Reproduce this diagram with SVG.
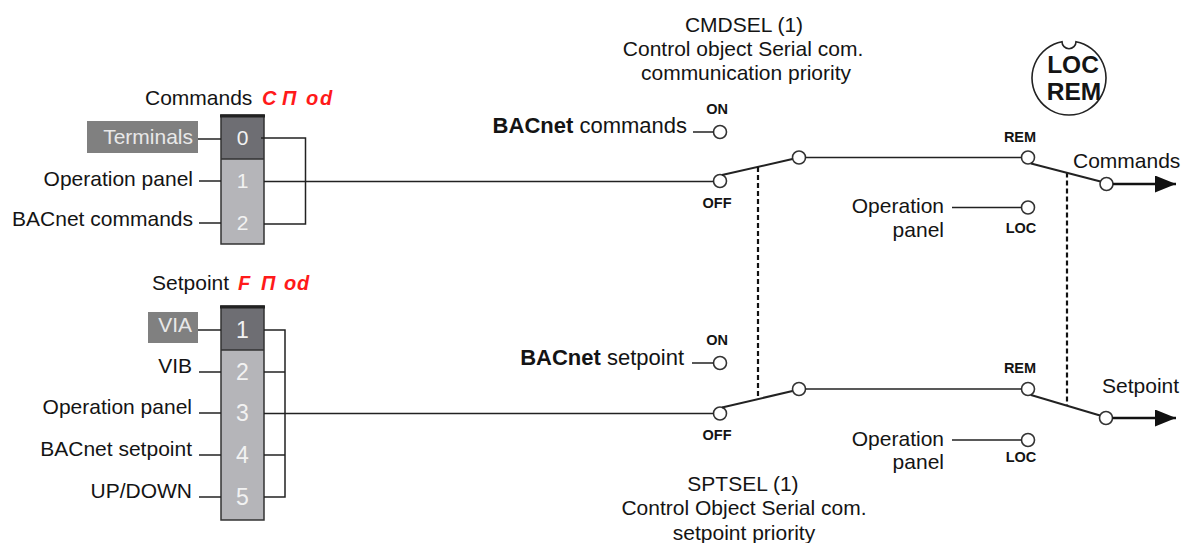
<svg xmlns="http://www.w3.org/2000/svg" width="1183" height="543" viewBox="0 0 1183 543">
<style>
text{font-family:"Liberation Sans",Arial,sans-serif;fill:#141414}
.lbl{font-size:21px}
.mid{font-size:22px}
.ttl{font-size:21px;text-anchor:middle}
.sm{font-size:14.5px;font-weight:bold;text-anchor:middle}
.dig{font-size:21px;fill:#f2f2f2;text-anchor:middle}
.dig2{font-size:23px;fill:#f2f2f2;text-anchor:middle}
.seg{font-size:20px;font-style:italic;font-weight:bold;fill:#ff1a1a}
.ln{stroke:#222;stroke-width:1.5;fill:none}
.term{fill:#fff;stroke:#333;stroke-width:1.6}
.arm{stroke:#222;stroke-width:2;fill:none}
.dash{stroke:#111;stroke-width:2.2;stroke-dasharray:5 3;fill:none}
.arr{stroke:#111;stroke-width:2.5;fill:none}
.dark{fill:#6e6e73}
.light{fill:#b5b5b9}
.frame{fill:none;stroke:#333;stroke-width:1.5}
.tag{fill:#808080}
.tagt{fill:#e8e8e8}
</style>
<defs>
<marker id="ah" markerUnits="userSpaceOnUse" markerWidth="21" markerHeight="17" refX="21" refY="8.5" orient="auto">
<path d="M0,0 L21,8.5 L0,17 z" fill="#111"/>
</marker>
</defs>

<g id="titles">
<text class="ttl" x="744" y="31.5">CMDSEL (1)</text>
<text class="ttl" x="743" y="56">Control object Serial com.</text>
<text class="ttl" x="746" y="80">communication priority</text>
<text class="ttl" x="743" y="491">SPTSEL (1)</text>
<text class="ttl" x="744" y="515">Control Object Serial com.</text>
<text class="ttl" x="744" y="540">setpoint priority</text>
</g>

<g id="cmd-selector">
<text class="lbl" x="145" y="105">Commands</text>
<text class="seg" y="105"><tspan x="262">C</tspan><tspan x="282">Π</tspan><tspan x="306">o</tspan><tspan x="320">d</tspan></text>
<rect class="dark" x="221" y="115" width="43" height="44"/>
<rect class="light" x="221" y="159" width="43" height="85"/>
<line x1="221" y1="159" x2="264" y2="159" stroke="#333" stroke-width="1.5"/>
<rect class="frame" x="221" y="115" width="43" height="129"/>
<line x1="220" y1="116" x2="265" y2="116" stroke="#222" stroke-width="3"/>
<text class="dig" x="242.5" y="145">0</text>
<text class="dig" x="242.5" y="188">1</text>
<text class="dig" x="242.5" y="230">2</text>
<rect class="tag" x="87" y="121" width="111" height="32"/>
<text class="lbl tagt" x="193" y="143.5" text-anchor="end">Terminals</text>
<text class="lbl" x="193" y="186" text-anchor="end">Operation panel</text>
<text class="lbl" x="193" y="226" text-anchor="end">BACnet commands</text>
</g>

<g id="sp-selector">
<text class="lbl" x="152" y="290">Setpoint</text>
<text class="seg" y="290"><tspan x="238">F</tspan><tspan x="261">Π</tspan><tspan x="284">o</tspan><tspan x="297">d</tspan></text>
<rect class="dark" x="221" y="306" width="43" height="44"/>
<rect class="light" x="221" y="350" width="43" height="170"/>
<line x1="221" y1="350" x2="264" y2="350" stroke="#333" stroke-width="1.5"/>
<rect class="frame" x="221" y="306" width="43" height="214"/>
<line x1="220" y1="307" x2="265" y2="307" stroke="#222" stroke-width="3"/>
<text class="dig2" x="242.5" y="338">1</text>
<text class="dig2" x="242.5" y="380">2</text>
<text class="dig2" x="242.5" y="421">3</text>
<text class="dig2" x="242.5" y="463">4</text>
<text class="dig2" x="242.5" y="505">5</text>
<rect class="tag" x="148" y="312" width="50" height="31"/>
<text class="lbl tagt" x="192" y="332" text-anchor="end">VIA</text>
<text class="lbl" x="192" y="373" text-anchor="end">VIB</text>
<text class="lbl" x="192" y="414" text-anchor="end">Operation panel</text>
<text class="lbl" x="192" y="456" text-anchor="end">BACnet setpoint</text>
<text class="lbl" x="192" y="498" text-anchor="end">UP/DOWN</text>
</g>

<g id="cmd-switch">
<text class="sm" x="717" y="114">ON</text>
<text class="sm" x="717" y="208">OFF</text>
<text class="mid" x="687" y="133" text-anchor="end"><tspan font-weight="bold">BACnet</tspan> commands</text>
<circle class="term" cx="720" cy="132" r="6.5"/>
<circle class="term" cx="720" cy="181" r="6.5"/>
<circle class="term" cx="799" cy="157.5" r="6.5"/>
</g>

<g id="sp-switch">
<text class="sm" x="717" y="345">ON</text>
<text class="sm" x="717" y="440">OFF</text>
<text class="mid" x="684" y="365" text-anchor="end"><tspan font-weight="bold">BACnet</tspan> setpoint</text>
<circle class="term" cx="720" cy="363" r="6.5"/>
<circle class="term" cx="720" cy="413.5" r="6.5"/>
<circle class="term" cx="799" cy="389" r="6.5"/>
</g>

<g id="cmd-locrem">
<text class="sm" x="1020" y="142">REM</text>
<text class="sm" x="1021" y="233">LOC</text>
<text class="lbl" x="944" y="213" text-anchor="end">Operation</text>
<text class="lbl" x="944" y="237" text-anchor="end">panel</text>
<circle class="term" cx="1028" cy="157.5" r="6.5"/>
<circle class="term" cx="1028" cy="207.5" r="6.5"/>
<circle class="term" cx="1106.5" cy="184" r="6.5"/>
<text class="lbl" x="1073" y="168">Commands</text>
</g>

<g id="sp-locrem">
<text class="sm" x="1020" y="373">REM</text>
<text class="sm" x="1021" y="462">LOC</text>
<text class="lbl" x="944" y="446" text-anchor="end">Operation</text>
<text class="lbl" x="944" y="469" text-anchor="end">panel</text>
<circle class="term" cx="1028" cy="389" r="6.5"/>
<circle class="term" cx="1028" cy="440" r="6.5"/>
<circle class="term" cx="1106" cy="418" r="6.5"/>
<text class="lbl" x="1102" y="393">Setpoint</text>
</g>

<g id="locrem-key">
<path d="M1062,41.7 A37,37 0 1 0 1076,41.7 A7,7 0 0 1 1062,41.7 Z" fill="#fff" stroke="#222" stroke-width="1.6"/>
<text x="1073" y="73" font-size="24.5" font-weight="bold" text-anchor="middle">LOC</text>
<text x="1074" y="100" font-size="24.5" font-weight="bold" text-anchor="middle">REM</text>
</g>

<g id="connectors">
<line class="ln" x1="198" y1="139" x2="221" y2="139"/>
<line class="ln" x1="199" y1="181" x2="221" y2="181"/>
<line class="ln" x1="199" y1="223" x2="221" y2="223"/>
<polyline class="ln" points="261,138 305.5,138 305.5,224 264,224"/>
<line class="ln" x1="264" y1="181.5" x2="713.5" y2="181.5"/>
<line class="ln" x1="198" y1="330" x2="221" y2="330"/>
<line class="ln" x1="199" y1="372" x2="221" y2="372"/>
<line class="ln" x1="199" y1="413" x2="221" y2="413"/>
<line class="ln" x1="199" y1="455" x2="221" y2="455"/>
<line class="ln" x1="199" y1="497" x2="221" y2="497"/>
<polyline class="ln" points="264,330 285,330 285,497 264,497"/>
<line class="ln" x1="264" y1="372" x2="285" y2="372"/>
<line class="ln" x1="264" y1="455" x2="285" y2="455"/>
<line class="ln" x1="264" y1="413.5" x2="713.5" y2="413.5"/>
<line class="ln" x1="693" y1="132" x2="713.5" y2="132"/>
<line class="arm" x1="722" y1="175" x2="792.5" y2="159"/>
<line class="ln" x1="805.5" y1="157.5" x2="1021.5" y2="157.5"/>
<line class="ln" x1="692" y1="363" x2="713.5" y2="363"/>
<line class="arm" x1="722" y1="407.5" x2="792.5" y2="391"/>
<line class="ln" x1="805.5" y1="389" x2="1021.5" y2="389"/>
<line class="dash" x1="758" y1="167" x2="758" y2="397"/>
<line class="dash" x1="1067" y1="172.5" x2="1067" y2="406"/>
<line class="ln" x1="952" y1="207.5" x2="1021.5" y2="207.5"/>
<line class="arm" x1="1031" y1="163.5" x2="1100.5" y2="181.5"/>
<line class="arr" x1="1113" y1="184" x2="1176" y2="184" marker-end="url(#ah)"/>
<line class="ln" x1="952" y1="440" x2="1021.5" y2="440"/>
<line class="arm" x1="1031" y1="395" x2="1100" y2="415.5"/>
<line class="arr" x1="1112.5" y1="418" x2="1176" y2="418" marker-end="url(#ah)"/>
</g>
</svg>
